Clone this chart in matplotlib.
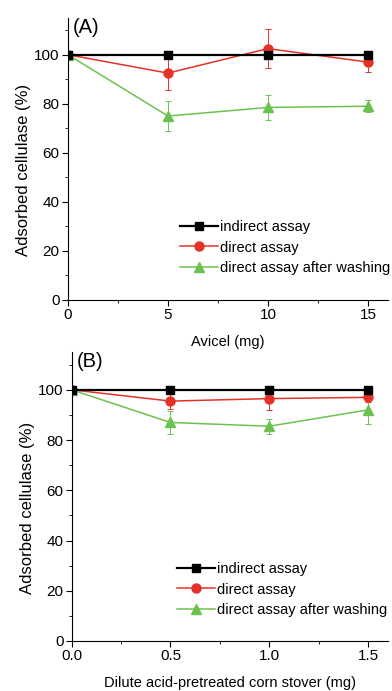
import numpy as np
import matplotlib.pyplot as plt
from matplotlib.ticker import MultipleLocator
from matplotlib.lines import Line2D

plt.rcParams['font.family'] = ['Liberation Sans', 'DejaVu Sans']

# panel A: Avicel
x_a = [0, 5, 10, 15]
indirect_a = [100, 100, 100, 100]
direct_a = [100, 92.5, 102.5, 97]
direct_a_err = [0, 7, 8, 4]
washed_a = [100, 75, 78.5, 79]
washed_a_err = [0, 6, 5, 2.5]

# panel B: dilute acid-pretreated corn stover
x_b = [0, 0.5, 1.0, 1.5]
indirect_b = [100, 100, 100, 100]
direct_b = [100, 95.5, 96.5, 97]
direct_b_err = [0, 3, 4.5, 2]
washed_b = [100, 87, 85.5, 92]
washed_b_err = [0, 4.5, 3, 5.5]

labels = ['indirect assay', 'direct assay', 'direct assay after washing']
red = '#e53228'
green = '#6cc250'

fig = plt.figure(figsize=(3.92, 6.91), dpi=100)
ax1 = fig.add_axes([0.1735, 0.566, 0.816, 0.408])
ax2 = fig.add_axes([0.183, 0.0724, 0.806, 0.418])


def draw(ax, x, ind, dr, dr_e, wa, wa_e, xmax, xmaj, xmin, tag, xlabel, fmt, leg_xy):
    ax.plot(x, ind, color='black', marker='s', ms=5.5, lw=1.6, zorder=3)
    ax.errorbar(x, dr, yerr=dr_e, color=red, marker='o', ms=6.5, lw=1.1,
                elinewidth=0.7, capsize=2.5, capthick=0.7, zorder=2)
    ax.errorbar(x, wa, yerr=wa_e, color=green, marker='^', ms=7.5, lw=1.1,
                elinewidth=0.7, capsize=2.5, capthick=0.7, zorder=2)
    ax.set_xlim(0, xmax)
    ax.set_ylim(0, 115)
    ax.xaxis.set_major_locator(MultipleLocator(xmaj))
    ax.xaxis.set_minor_locator(MultipleLocator(xmin))
    ax.yaxis.set_major_locator(MultipleLocator(20))
    ax.yaxis.set_minor_locator(MultipleLocator(10))
    ax.xaxis.set_major_formatter(fmt)
    for s in ['top', 'right']:
        ax.spines[s].set_visible(False)
    ax.tick_params(which='major', length=4, labelsize=11, direction='out', pad=2)
    ax.tick_params(which='minor', length=2.5, direction='out')
    ax.set_ylabel('Adsorbed cellulase (%)', fontsize=12, labelpad=2, y=0.46)
    ax.set_xlabel(xlabel, fontsize=10.5, labelpad=9)
    ax.text(0.015, 1.0, tag, transform=ax.transAxes, fontsize=14.5, va='top', ha='left')
    handles = [
        Line2D([], [], color='black', marker='s', ms=5.5, lw=1.6),
        Line2D([], [], color=red, marker='o', ms=6.5, lw=1.1),
        Line2D([], [], color=green, marker='^', ms=7.5, lw=1.1),
    ]
    ax.legend(handles, labels, loc='upper left', bbox_to_anchor=leg_xy,
              bbox_transform=fig.transFigure, frameon=False,
              fontsize=10.5, handlelength=2.6, handletextpad=0.15, labelspacing=0.45,
              borderpad=0, borderaxespad=0)


draw(ax1, x_a, indirect_a, direct_a, direct_a_err, washed_a, washed_a_err,
     16, 5, 2.5, '(A)', 'Avicel (mg)', '{x:g}', (180 / 392, 1 - 220 / 691))
draw(ax2, x_b, indirect_b, direct_b, direct_b_err, washed_b, washed_b_err,
     1.6, 0.5, 0.25, '(B)', 'Dilute acid-pretreated corn stover (mg)', '{x:.1f}',
     (177 / 392, 1 - 562 / 691))

fig.savefig('out.png', dpi=100)
